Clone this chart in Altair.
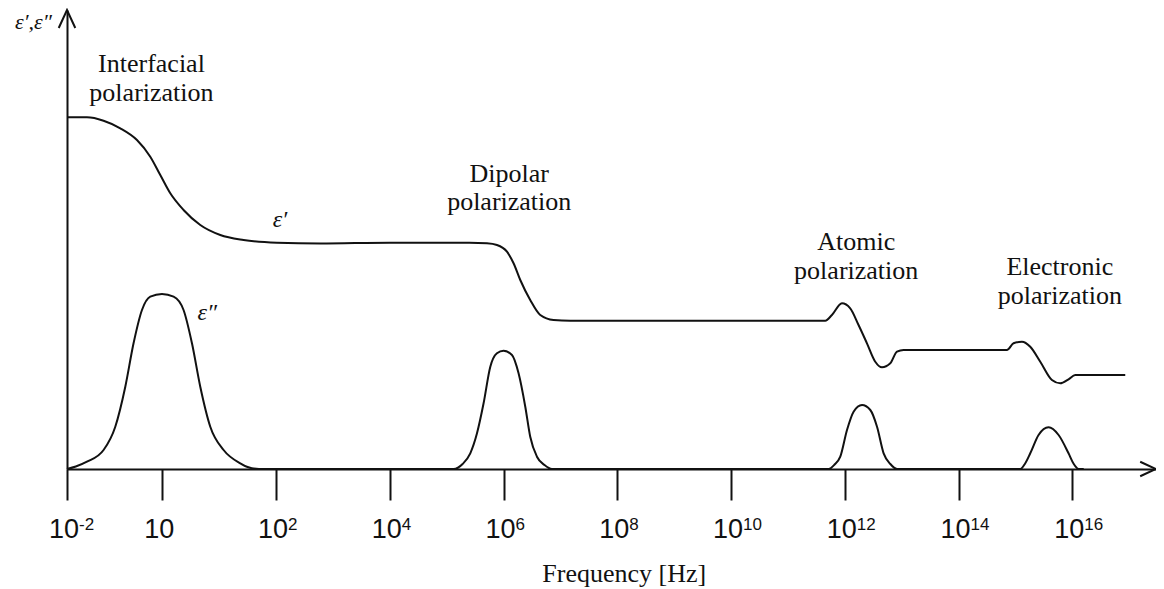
import altair as alt
import pandas as pd

# ---------------- data (x: position on the log-frequency axis, y: arbitrary units) ----------------
eps1_x = [-1.675, -1.324, -1.032, -0.738, -0.445, -0.211, -0.035, 0.141, 0.374, 0.668, 1.020, 1.429,
          2.016, 2.778, 4.0, 5.4, 5.708, 5.884, 6.060, 6.176, 6.294, 6.469, 6.645, 6.879, 7.173,
          11.656, 11.773, 11.949, 12.095, 12.241, 12.389, 12.535, 12.653, 12.799, 12.917, 13.033,
          14.850, 14.966, 15.114, 15.260, 15.436, 15.641, 15.787, 15.933, 16.051, 16.930]
eps1_y = [351.7, 351.7, 348.3, 340.7, 329.0, 312.3, 294.0, 275.7, 259.0, 244.0, 234.0, 229.0,
          226.3, 225.5, 226.3, 226.3, 225.7, 224.0, 217.3, 205.7, 189.0, 169.0, 154.0, 149.0, 148.3,
          148.3, 154.0, 165.7, 160.7, 144.0, 125.7, 107.3, 101.7, 105.7, 117.3, 119.0,
          119.0, 125.7, 127.3, 122.3, 107.3, 89.0, 85.7, 89.7, 94.0, 94.0]

# eps'' : four loss peaks, zero between them (lies on the frequency axis)
eps2_x = [-1.675, -1.52, -1.324, -1.032, -0.826, -0.650, -0.505, -0.357, -0.211, -0.005, 0.199,
          0.374, 0.522, 0.668, 0.844, 1.078, 1.371, 1.50, 1.70,
          5.00, 5.121, 5.28, 5.415, 5.533, 5.649, 5.767, 5.884, 6.000, 6.148, 6.264, 6.382, 6.469,
          6.587, 6.72, 6.851, 6.95,
          11.60, 11.715, 11.82, 11.920, 12.038, 12.154, 12.302, 12.448, 12.566, 12.682, 12.80,
          12.918, 13.02,
          14.98, 15.085, 15.17, 15.260, 15.406, 15.582, 15.758, 15.933, 16.02, 16.111, 16.20]
eps2_y = [0.0, 2.5, 7.3, 19.0, 42.3, 82.3, 125.7, 159.0, 172.3, 175.0, 172.3,
          159.0, 125.7, 82.3, 42.3, 19.0, 5.7, 2.0, 0.0,
          0.0, 0.0, 5.0, 15.7, 35.7, 65.7, 102.3, 115.7, 118.3, 114.0, 95.7, 62.3, 32.3,
          12.3, 4.0, 0.0, 0.0,
          0.0, 0.0, 4.5, 12.3, 39.0, 57.3, 64.0, 59.0, 42.3, 15.7, 5.0,
          0.0, 0.0,
          0.0, 0.0, 5.5, 15.7, 34.0, 41.7, 34.0, 15.7, 5.5, 0.0, 0.0]

tick_pos = [-1.675, 0, 2, 4, 6, 8, 10, 12, 14, 16]
tick_base = ["10"] * 10
tick_exp = ["-2", "", "2", "4", "6", "8", "10", "12", "14", "16"]

ann_text = ["Interfacial\npolarization", "Dipolar\npolarization",
            "Atomic\npolarization", "Electronic\npolarization"]
ann_x = [-0.19, 6.10, 12.20, 15.78]
ann_y = [397.0, 287.3, 219.0, 194.0]

curve_lbl_text = ["ε′", "ε″"]
curve_lbl_x = [2.07, 0.79]
curve_lbl_y = [242.5, 149.0]

# ---------------- layout ----------------
W, H = 1089, 459
X0 = tick_pos[0]
X1 = X0 + W / 56.88
INK = "#111111"

xs = alt.Scale(domain=[X0, X1], nice=False, zero=False)
ys = alt.Scale(domain=[0, H], nice=False, zero=False)

eps1 = pd.DataFrame({"x": eps1_x, "y": eps1_y})
eps2 = pd.DataFrame({"x": eps2_x, "y": eps2_y})
ticks = pd.DataFrame({"x": tick_pos, "base": tick_base, "exp": tick_exp})
ann = pd.DataFrame({"x": ann_x, "y": ann_y, "t": ann_text})
clbl = pd.DataFrame({"x": curve_lbl_x, "y": curve_lbl_y, "t": curve_lbl_text})
one = pd.DataFrame({"a": [0]})

x_axis = alt.Axis(values=tick_pos, labels=False, ticks=True, tickSize=31, tickWidth=2, tickColor=INK,
                  domain=True, domainColor=INK, domainWidth=2, grid=False,
                  title="Frequency [Hz]", titleFont="Liberation Serif", titleFontSize=26,
                  titleFontWeight="normal", titleColor=INK, titleX=556.7, titleY=112,
                  titleAlign="center", titleBaseline="alphabetic")
y_axis = alt.Axis(values=[0], labels=False, ticks=False, domain=True, domainColor=INK, domainWidth=2,
                  grid=False, title="ε′,ε″", titleAngle=0, titleX=-34, titleY=18,
                  titleFont="Liberation Serif", titleFontStyle="italic", titleFontSize=22,
                  titleFontWeight="normal", titleColor=INK, titleAlign="center",
                  titleBaseline="alphabetic")

X = alt.X("x:Q", scale=xs, axis=x_axis)
Y = alt.Y("y:Q", scale=ys, axis=y_axis)

line1 = alt.Chart(eps1).mark_line(color=INK, strokeWidth=2, interpolate="monotone").encode(x=X, y=Y)
line2 = alt.Chart(eps2).mark_line(color=INK, strokeWidth=2, interpolate="monotone").encode(x=X, y=Y)
base_lbl = alt.Chart(ticks).mark_text(align="right", baseline="alphabetic", dx=12,
                                      font="Liberation Sans", fontSize=27, color=INK).encode(
    x=X, y=alt.value(H + 69), text="base:N")
exp_lbl = alt.Chart(ticks).mark_text(align="left", baseline="alphabetic", dx=12,
                                     font="Liberation Sans", fontSize=17, color=INK).encode(
    x=X, y=alt.value(H + 61), text="exp:N")
ann_lbl = alt.Chart(ann).mark_text(align="center", baseline="alphabetic", lineBreak="\n",
                                   lineHeight=28.5, font="Liberation Serif", fontSize=26,
                                   color=INK).encode(x=X, y=Y, text="t:N")
curve_lbl = alt.Chart(clbl).mark_text(align="center", baseline="alphabetic",
                                      font="Liberation Serif", fontStyle="italic", fontSize=24,
                                      color=INK).encode(x=X, y=Y, text="t:N")

chevron = "M-0.46,1L0,0L0.46,1"
arrow_up = alt.Chart(one).mark_point(shape=chevron, filled=False, stroke=INK, strokeWidth=2,
                                     size=1296, opacity=1).encode(
    x=alt.value(0), y=alt.value(0))
arrow_right = alt.Chart(one).mark_point(shape=chevron, filled=False, stroke=INK, strokeWidth=2,
                                        size=1000, angle=90, opacity=1).encode(
    x=alt.value(W), y=alt.value(H))

chart = alt.layer(line1, line2, base_lbl, exp_lbl, ann_lbl, curve_lbl, arrow_up, arrow_right).properties(
    width=W, height=H, autosize="none",
    padding={"left": 59, "top": 2, "right": 0, "bottom": 120},
    background="white",
).configure_view(stroke=None)

chart.save("out.html", embed_options={"renderer": "svg", "actions": False})
